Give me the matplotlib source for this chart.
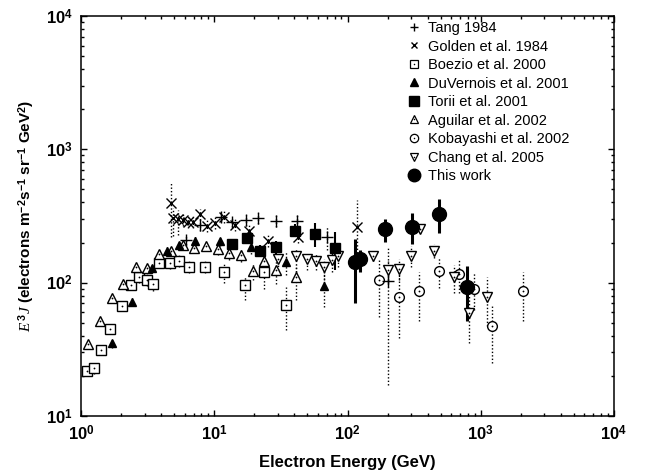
import math
import matplotlib
matplotlib.use("Agg")
import matplotlib.pyplot as plt
from matplotlib.lines import Line2D
from matplotlib.legend_handler import HandlerTuple
from matplotlib.ticker import LogLocator, FuncFormatter, NullFormatter

plt.rcParams['font.family'] = ['Liberation Sans', 'DejaVu Sans']
plt.rcParams['mathtext.fontset'] = 'custom'
plt.rcParams['mathtext.rm'] = 'Liberation Sans:bold'
plt.rcParams['mathtext.bf'] = 'Liberation Sans:bold'
plt.rcParams['mathtext.it'] = 'Liberation Serif:italic'

# energy (GeV), E^3 J, lower and upper ends of the error bar
tang_e = [6.14, 7.82, 11.2, 13.6, 17.3, 21.4, 29.1, 42.0, 69.8, 200]
tang_f = [209, 271, 313, 287, 295, 304, 292, 290, 221, 103]
tang_lo = [190, 245, 285, 262, 268, 275, 262, 262, 176, 17]
tang_hi = [228, 297, 341, 312, 322, 333, 322, 322, 262, 182]

golden_e = [4.72, 4.93, 5.37, 5.86, 6.39, 6.96, 7.82, 8.77, 10.1, 11.8, 14.3, 18.3, 25.5, 42.3, 118]
golden_f = [398, 304, 299, 295, 287, 287, 326, 266, 282, 313, 271, 245, 206, 219, 263]
golden_lo = [221, 225, 228, 265, 258, 258, 293, 239, 254, 282, 244, 220, 185, 197, 166]
golden_hi = [573, 360, 350, 325, 316, 316, 359, 293, 310, 344, 298, 270, 227, 241, 417]

boezio_e = [1.11, 1.26, 1.41, 1.66, 2.02, 2.39, 2.74, 3.11, 3.49, 3.87, 4.65, 5.47, 6.50, 8.52, 11.9, 17.1, 23.6, 34.5]
boezio_f = [21.8, 22.8, 31.3, 45, 66.8, 96, 110, 105, 97, 141, 140, 146, 132, 132, 120, 96, 120, 68]
boezio_lo = [20.0, 20.8, 28.5, 41, 61, 88, 100, 95, 86, 128, 127, 132, 119, 118, 100, 74, 90, 44]
boezio_hi = [23.6, 25.0, 34.3, 49, 73, 105, 121, 116, 108, 155, 154, 160, 146, 147, 137, 112, 150, 92]

duvernois_e = [1.72, 2.40, 3.43, 4.44, 5.47, 7.17, 11.0, 18.8, 34.5, 66.6]
duvernois_f = [35.1, 72, 128, 173, 191, 207, 206, 186, 142, 95]
duvernois_lo = [32.5, 67, 119, 160, 176, 190, 188, 165, 115, 66]
duvernois_hi = [37.8, 77, 137, 186, 206, 224, 224, 207, 170, 131]

torii_e = [13.7, 17.6, 22.0, 29.1, 40.4, 57.0, 80.5]
torii_f = [194, 218, 174, 186, 245, 233, 183]
torii_lo = [180, 202, 158, 165, 220, 185, 125]
torii_hi = [208, 234, 190, 207, 276, 280, 240]

aguilar_e = [1.13, 1.39, 1.70, 2.08, 2.57, 3.15, 3.85, 4.74, 5.86, 7.08, 8.66, 10.6, 13.0, 15.9, 19.4, 23.8, 29.1, 40.9]
aguilar_f = [34.7, 51.9, 76.4, 97.8, 130, 128, 164, 174, 192, 183, 188, 178, 166, 161, 122, 145, 124, 110]
aguilar_lo = [33, 49, 72, 92, 122, 120, 153, 162, 178, 169, 172, 160, 148, 142, 105, 122, 98, 74]
aguilar_hi = [36.5, 55, 81, 104, 138, 136, 175, 186, 206, 197, 204, 196, 184, 180, 140, 170, 155, 135]

kobayashi_e = [172, 243, 344, 486, 687, 895, 1208, 2066]
kobayashi_f = [105, 78.5, 86.7, 123, 117, 89, 47.3, 86.7]
kobayashi_lo = [55.6, 38.5, 52, 91, 84, 62, 25, 52]
kobayashi_hi = [153, 124, 121, 153, 148, 118, 68, 121]

chang_e = [29.9, 40.9, 49.4, 57.7, 66.6, 76.9, 85.3, 156, 200, 245, 300, 350, 448, 630, 817, 1109]
chang_f = [151, 158, 150, 145, 130, 148, 158, 158, 124, 126, 159, 252, 174, 110, 58.9, 78.5]
chang_lo = [124, 120, 124, 125, 105, 120, 130, 145, 100, 105, 132, 235, 153, 84, 35, 47]
chang_hi = [167, 180, 167, 165, 150, 170, 180, 170, 145, 150, 187, 275, 195, 135, 85, 110]

this_e = [114, 124, 192, 306, 486, 785]
this_f = [144, 150, 252, 263, 325, 93.3]
this_lo = [70.8, 120, 203, 195, 234, 51.9]
this_hi = [213, 176, 299, 335, 423, 134]

labels = ["Tang 1984", "Golden et al. 1984", "Boezio et al. 2000", "DuVernois et al. 2001",
          "Torii et al. 2001", "Aguilar et al. 2002", "Kobayashi et al. 2002",
          "Chang et al. 2005", "This work"]

fig = plt.figure(figsize=(6.46, 4.75), dpi=100)
ax = fig.add_axes([81/646, 1-416/475, 533/646, 400/475])


def draw(e, f, lo, hi, marker, ms, filled, dotted=True, elw=1.0, mew=1.0):
    err = [[a - b for a, b in zip(f, lo)], [c - a for a, c in zip(f, hi)]]
    eb = ax.errorbar(e, f, yerr=err, fmt='none', ecolor='black', elinewidth=elw,
                     capsize=0, zorder=2)
    if dotted:
        eb[2][0].set_linestyle((0, (1, 1.5)))
    face = 'black' if filled else 'white'
    ax.plot(e, f, linestyle='none', marker=marker, ms=ms, mfc=face, mec='black',
            mew=mew, zorder=3)
    if not filled and marker not in ('+', 'x'):
        ax.plot(e, f, linestyle='none', marker='o', ms=1.3, mfc='black', mec='black',
                mew=0, zorder=4)


draw(boezio_e, boezio_f, boezio_lo, boezio_hi, 's', 7, False)
draw(aguilar_e, aguilar_f, aguilar_lo, aguilar_hi, '^', 7, False)
draw(duvernois_e, duvernois_f, duvernois_lo, duvernois_hi, '^', 6, True)
draw(kobayashi_e, kobayashi_f, kobayashi_lo, kobayashi_hi, 'o', 7, False)
draw(chang_e, chang_f, chang_lo, chang_hi, 'v', 7, False)
draw(tang_e, tang_f, tang_lo, tang_hi, '+', 8.5, False)
draw(golden_e, golden_f, golden_lo, golden_hi, 'x', 7, False)
draw(torii_e, torii_f, torii_lo, torii_hi, 's', 7.5, True, dotted=False, elw=1.5)
draw(this_e, this_f, this_lo, this_hi, 'o', 10, True, dotted=False, elw=2.2)

ax.set_xscale('log')
ax.set_yscale('log')
ax.set_xlim(1, 1e4)
ax.set_ylim(10, 1e4)

fmt = FuncFormatter(lambda v, p: r'$10^{%d}$' % round(math.log10(v)))
for axis in (ax.xaxis, ax.yaxis):
    axis.set_major_locator(LogLocator(base=10, numticks=10))
    axis.set_minor_locator(LogLocator(base=10, subs=range(2, 10), numticks=10))
    axis.set_major_formatter(fmt)
    axis.set_minor_formatter(NullFormatter())
ax.tick_params(which='both', direction='in', top=True, right=True, width=1, labelsize=12)
ax.tick_params(which='major', length=4.5, pad=6)
ax.tick_params(which='minor', length=2.5)
for s in ax.spines.values():
    s.set_linewidth(1.1)

ax.set_xlabel('Electron Energy (GeV)', fontsize=12, fontweight='bold', labelpad=8)
ax.set_ylabel(r'$E^{\,3}J$ (electrons m$^{-2}$s$^{-1}$ sr$^{-1}$ GeV$^{2}$)',
              fontsize=11, fontweight='bold', labelpad=6)


def dot():
    return Line2D([], [], ls='none', marker='o', ms=1.1, mfc='black', mec='black', mew=0)


handles = [
    Line2D([], [], ls='none', marker='+', ms=6, mec='black', mew=1),
    Line2D([], [], ls='none', marker='x', ms=5, mec='black', mew=1),
    (Line2D([], [], ls='none', marker='s', ms=6, mfc='white', mec='black', mew=0.9), dot()),
    Line2D([], [], ls='none', marker='^', ms=5.5, mfc='black', mec='black'),
    Line2D([], [], ls='none', marker='s', ms=7, mfc='black', mec='black'),
    (Line2D([], [], ls='none', marker='^', ms=6, mfc='white', mec='black', mew=0.9), dot()),
    (Line2D([], [], ls='none', marker='o', ms=6, mfc='white', mec='black', mew=0.9), dot()),
    (Line2D([], [], ls='none', marker='v', ms=6, mfc='white', mec='black', mew=0.9), dot()),
    Line2D([], [], ls='none', marker='o', ms=9, mfc='black', mec='black'),
]
fig.legend(handles, labels, loc='upper left', bbox_to_anchor=(407/646, 1-21/475),
           frameon=False, fontsize=10.5, handlelength=1.0, handletextpad=0.45,
           labelspacing=0.31, borderpad=0, borderaxespad=0,
           handler_map={tuple: HandlerTuple(ndivide=1, pad=0)})

fig.savefig('out.png', dpi=100)
